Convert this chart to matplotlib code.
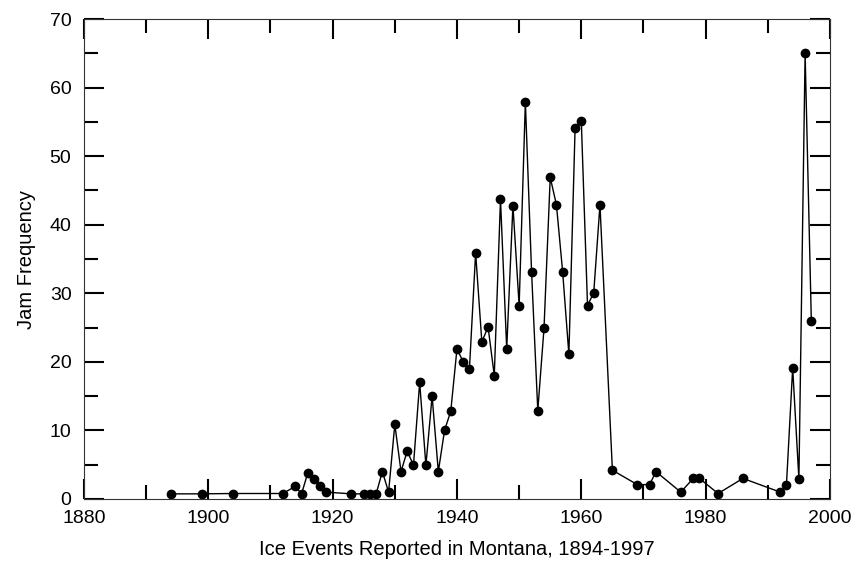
#!/usr/bin/env python3

import matplotlib
matplotlib.use("Agg")
import matplotlib.pyplot as plt
from matplotlib.ticker import MultipleLocator

# ice jam events per year
years = [
    1894, 1899, 1904, 1912, 1914, 1915, 1916, 1917, 1918, 1919,
    1923, 1925, 1926, 1927, 1928, 1929, 1930, 1931, 1932, 1933,
    1934, 1935, 1936, 1937, 1938, 1939, 1940, 1941, 1942, 1943,
    1944, 1945, 1946, 1947, 1948, 1949, 1950, 1951, 1952, 1953,
    1954, 1955, 1956, 1957, 1958, 1959, 1960, 1961, 1962, 1963,
    1965, 1969, 1971, 1972, 1976, 1978, 1979, 1982, 1986, 1992,
    1993, 1994, 1995, 1996, 1997,
]
jam_freq = [
    0.75, 0.75, 0.8, 0.8, 1.85, 0.75, 3.8, 2.95, 1.95, 1.0,
    0.75, 0.75, 0.75, 0.75, 4.0, 1.0, 10.9, 4.0, 7.0, 4.9,
    17.0, 4.9, 15.0, 4.0, 10.0, 12.8, 21.9, 20.0, 18.9, 35.9,
    22.9, 25.1, 18.0, 43.7, 21.9, 42.8, 28.2, 57.9, 33.1, 12.9,
    24.9, 46.9, 42.9, 33.1, 21.1, 54.1, 55.1, 28.2, 30.1, 42.9,
    4.2, 2.1, 2.1, 4.0, 1.0, 3.0, 3.0, 0.8, 3.0, 1.0,
    2.1, 19.1, 2.9, 65.0, 26.0,
]

plt.rcParams["font.family"] = ["Liberation Sans", "DejaVu Sans"]

fig = plt.figure(figsize=(8.56, 5.68), dpi=100)
ax = fig.add_axes([0.0981, 0.1215, 0.8715, 0.845])

ax.plot(years, jam_freq, "o-", color="black", linewidth=1.0, markersize=6)

ax.set_xlim(1880, 2000)
ax.set_ylim(0, 70)
ax.xaxis.set_major_locator(MultipleLocator(20))
ax.xaxis.set_minor_locator(MultipleLocator(10))
ax.yaxis.set_major_locator(MultipleLocator(10))
ax.yaxis.set_minor_locator(MultipleLocator(5))

ax.tick_params(which="both", direction="in", top=True, right=True,
               width=1.5, colors="black", labelsize=14)
ax.tick_params(which="major", length=14.5)
ax.tick_params(which="minor", length=10)
ax.tick_params(axis="x", pad=8)
ax.tick_params(axis="y", pad=9)

for sp in ax.spines.values():
    sp.set_linewidth(0.8)
    sp.set_color("#333333")

ax.set_xlabel("Ice Events Reported in Montana, 1894-1997", fontsize=14.5, labelpad=9)
ax.set_ylabel("Jam Frequency", fontsize=14.5, labelpad=10)

plt.savefig("out.png", dpi=100)
